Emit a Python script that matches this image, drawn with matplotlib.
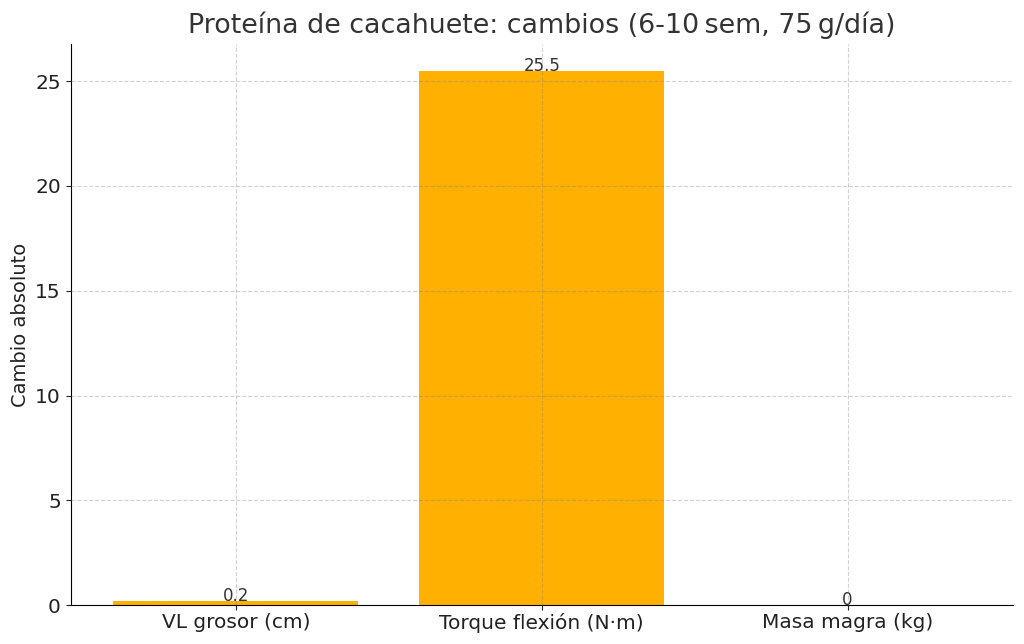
import matplotlib
matplotlib.use("Agg")
import matplotlib.pyplot as plt

# Chart data
categories = ["VL grosor (cm)", "Torque flexión (N·m)", "Masa magra (kg)"]
changes = [0.2, 25.5, 0]
value_labels = ["0.2", "25.5", "0"]

plt.rcParams["font.family"] = ["DejaVu Sans"]

fig, ax = plt.subplots(figsize=(10.24, 6.44), dpi=100)

bars = ax.bar(categories, changes, width=0.8, color="#FFB000", zorder=1)

for bar, label in zip(bars, value_labels):
    ax.text(
        bar.get_x() + bar.get_width() / 2,
        bar.get_height(),
        label,
        ha="center",
        va="baseline",
        fontsize=12,
        color="#333333",
        zorder=2,
    )

ax.set_title("Proteína de cacahuete: cambios (6-10\u2009sem, 75\u2009g/día)",
             fontsize=19.4, color="#333333", pad=8)
ax.set_ylabel("Cambio absoluto", fontsize=14, color="#222222")
ax.tick_params(axis="both", labelsize=14.5, colors="#222222")
ax.tick_params(axis="x", pad=2)
ax.set_axisbelow(False)
ax.grid(True, linestyle="--", color="gray", alpha=0.35, linewidth=0.8, zorder=2.5)
ax.spines["top"].set_visible(False)
ax.spines["right"].set_visible(False)

fig.subplots_adjust(left=0.069, right=0.989, top=0.932, bottom=0.06)
fig.savefig("out.png", dpi=100)
